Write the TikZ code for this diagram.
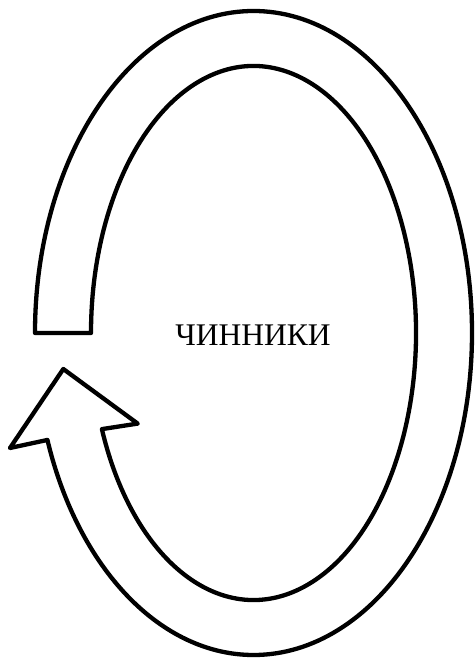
\documentclass[tikz,border=0pt]{standalone}
\usepackage{fontspec}
\setmainfont{Liberation Serif}
\begin{document}
\begin{tikzpicture}[x=1pt,y=1pt,
  band/.style={draw=black, line width=4.3pt, line join=round, fill=white},
  label/.style={font=\fontsize{31.5}{31.5}\selectfont, inner sep=0pt, anchor=base}]
\useasboundingbox (0,0) rectangle (474,661);
\coordinate (C) at (253.5,328);
\coordinate (outerStart) at ([shift={(C)}] 180:218.5 and 322);
\coordinate (leftCorner) at (10,213);
\coordinate (tip) at (63.3,292);
\coordinate (rightCorner) at (137.7,237.4);
\coordinate (innerNotch) at ([shift={(C)}] -158.9:162.5 and 267);
\draw[band] (outerStart)
  arc[start angle=180, end angle=-160.6, x radius=218.5, y radius=322]
  -- (leftCorner) -- (tip) -- (rightCorner) -- (innerNotch)
  arc[start angle=-158.9, end angle=180, x radius=162.5, y radius=267]
  -- cycle;
\node[label] (t) at (253,315) {ЧИННИКИ};
\end{tikzpicture}
\end{document}
